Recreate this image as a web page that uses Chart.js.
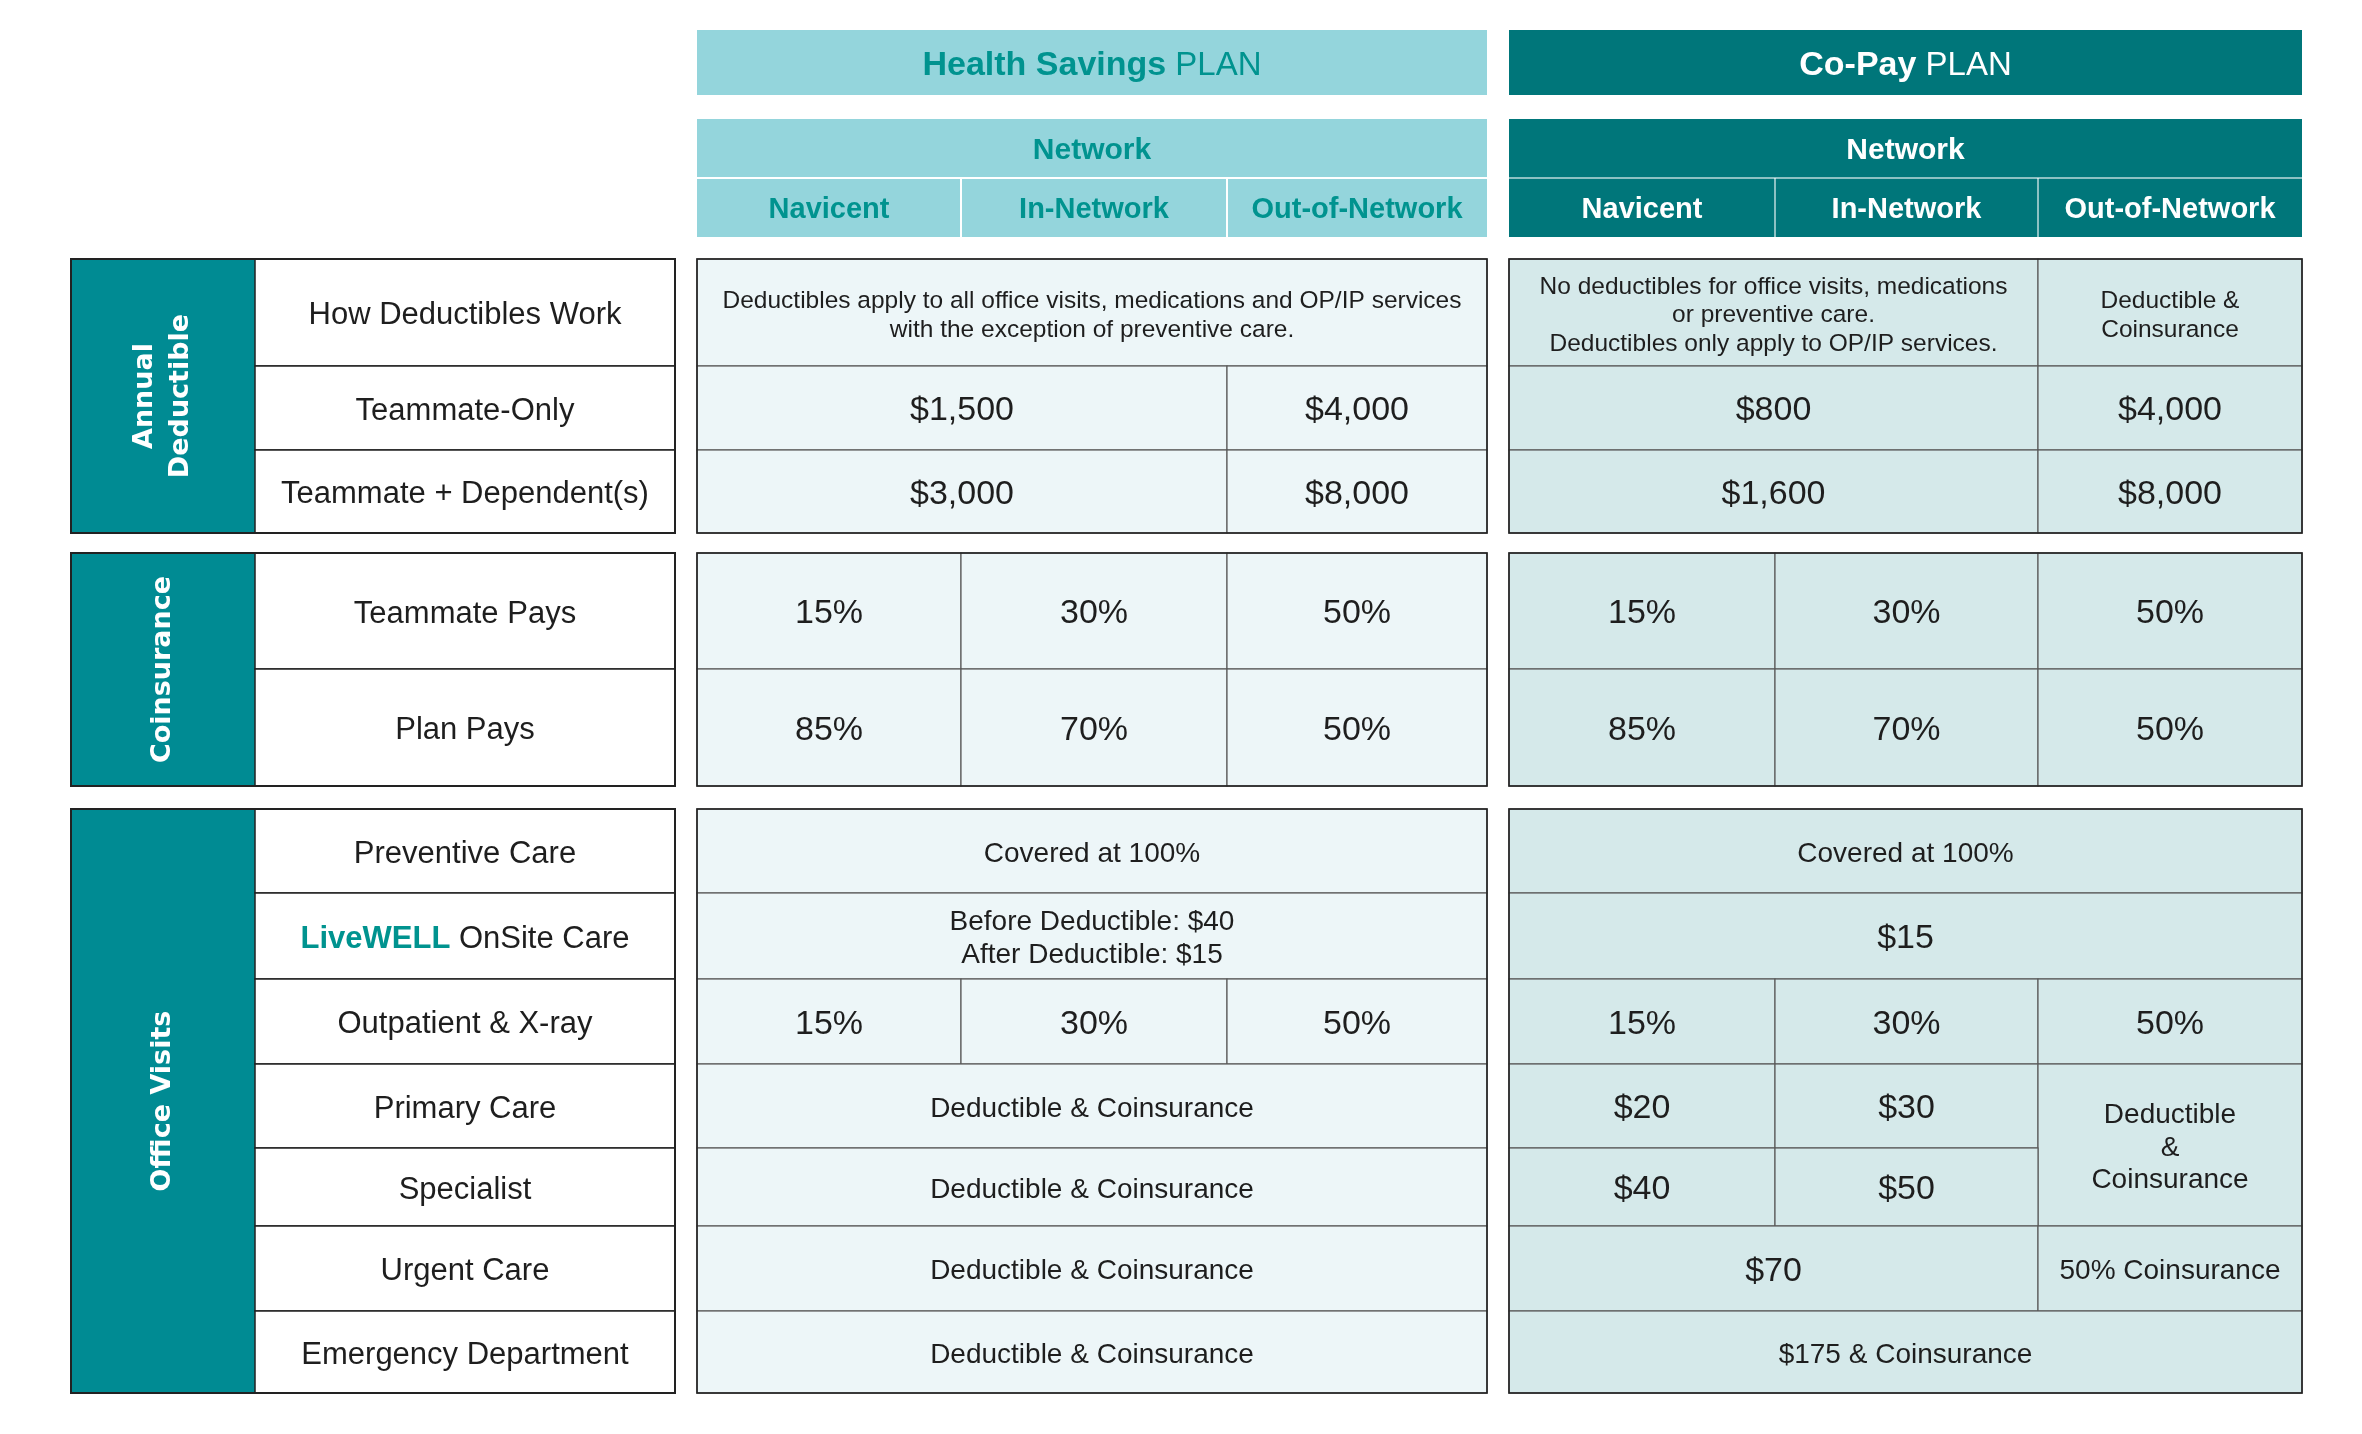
<!DOCTYPE html>
<html>
<head>
<meta charset="utf-8">
<title>Plan comparison</title>
<script src="https://cdn.jsdelivr.net/npm/chart.js@4.4.1/dist/chart.umd.min.js"></script>
<style>
  html, body { margin: 0; padding: 0; background: #fff; }
  #planChart { display: block; }
</style>
</head>
<body>
<canvas id="planChart" width="2362" height="1434"></canvas>
<script>
// ---- table content ----
const planTitles = ['Health Savings', 'Co-Pay'];
const networkLabel = 'Network';
const networkCols = ['Navicent', 'In-Network', 'Out-of-Network'];
const sectionLabels = [['Annual', 'Deductible'], ['Coinsurance'], ['Office Visits']];
const rowLabels = [
    'How Deductibles Work', 'Teammate-Only', 'Teammate + Dependent(s)',
    'Teammate Pays', 'Plan Pays',
    'Preventive Care', 'LiveWELL OnSite Care', 'Outpatient & X-ray', 'Primary Care',
    'Specialist', 'Urgent Care', 'Emergency Department'
];
// each cell: [text, colspan, rowspan]
const hsaCells = [
    [['Deductibles apply to all office visits, medications and OP/IP services\nwith the exception of preventive care.', 3]],
    [['$1,500', 2], ['$4,000', 1]],
    [['$3,000', 2], ['$8,000', 1]],
    [['15%', 1], ['30%', 1], ['50%', 1]],
    [['85%', 1], ['70%', 1], ['50%', 1]],
    [['Covered at 100%', 3]],
    [['Before Deductible: $40\nAfter Deductible: $15', 3]],
    [['15%', 1], ['30%', 1], ['50%', 1]],
    [['Deductible & Coinsurance', 3]],
    [['Deductible & Coinsurance', 3]],
    [['Deductible & Coinsurance', 3]],
    [['Deductible & Coinsurance', 3]]
];
const copayCells = [
    [['No deductibles for office visits, medications\nor preventive care.\nDeductibles only apply to OP/IP services.', 2], ['Deductible &\nCoinsurance', 1]],
    [['$800', 2], ['$4,000', 1]],
    [['$1,600', 2], ['$8,000', 1]],
    [['15%', 1], ['30%', 1], ['50%', 1]],
    [['85%', 1], ['70%', 1], ['50%', 1]],
    [['Covered at 100%', 3]],
    [['$15', 3]],
    [['15%', 1], ['30%', 1], ['50%', 1]],
    [['$20', 1], ['$30', 1], ['Deductible\n&\nCoinsurance', 1, 2]],
    [['$40', 1], ['$50', 1]],
    [['$70', 2], ['50% Coinsurance', 1]],
    [['$175 & Coinsurance', 3]]
];

// ---- grid layout (scale units) ----
const colEdges = [71, 255, 675, 697, 961, 1227, 1487, 1509, 1775, 2038, 2302];
const headerBands = [[30, 95], [119, 178], [178, 237]];
const sectionRowEdges = [
    [259, 366, 450, 533],
    [553, 669, 786],
    [809, 893, 979, 1064, 1148, 1226, 1311, 1393]
];

const FONT = '"Liberation Sans", Arial, sans-serif';
const SIDE_FONT = '"DejaVu Sans", sans-serif';
const TEXT_DROP = 3;
const colors = {
    hsaHead: '#94d5dc', hsaText: '#00938f',
    copayHead: '#00767a', sideBg: '#008b93',
    hsaBody: '#edf6f8', copayBody: '#d5e9ea',
    ink: '#1e1e1e', line: '#5a5a5a', frame: '#222'
};

function drawLines(ctx, text, cx, cy, size, weight, color) {
    const lines = text.split('\n');
    const lh = size * 1.17;
    ctx.font = `${weight} ${size}px ${FONT}`;
    ctx.fillStyle = color;
    ctx.textAlign = 'center';
    ctx.textBaseline = 'middle';
    lines.forEach((l, i) => {
        ctx.fillText(l, cx, cy + TEXT_DROP + (i - (lines.length - 1) / 2) * lh);
    });
}

function drawRuns(ctx, runs, cx, cy) {
    ctx.textBaseline = 'middle';
    ctx.textAlign = 'left';
    let total = 0;
    runs.forEach(r => { ctx.font = r.font; total += ctx.measureText(r.text).width; });
    let x0 = cx - total / 2;
    runs.forEach(r => {
        ctx.font = r.font;
        ctx.fillStyle = r.color;
        ctx.fillText(r.text, x0, cy + TEXT_DROP);
        x0 += ctx.measureText(r.text).width;
    });
}

function cellSize(text, row) {
    if (/^[\$\d,%]+$/.test(text)) return 34;
    if (row === 0) return 24.5;
    return 28;
}

const tablePlugin = {
    id: 'tablePlugin',
    afterDraw(chart) {
        const { ctx, scales: { x, y } } = chart;
        const X = i => x.getPixelForValue(colEdges[i]);
        const Y = v => y.getPixelForValue(v);
        ctx.save();

        // plan headers
        const planStart = [3, 7];
        planTitles.forEach((title, p) => {
            const c0 = planStart[p];
            const dark = p === 1;
            const bg = dark ? colors.copayHead : colors.hsaHead;
            const fg = dark ? '#fff' : colors.hsaText;
            const sep = dark ? 'rgba(255,255,255,0.55)' : '#fff';
            const xl = X(c0), xr = X(c0 + 3);
            // title
            let [t, b] = headerBands[0];
            ctx.fillStyle = bg;
            ctx.fillRect(xl, Y(t), xr - xl, Y(b) - Y(t));
            drawRuns(ctx, [
                { text: title, font: `bold 34px ${FONT}`, color: fg },
                { text: ' PLAN', font: `normal 33px ${FONT}`, color: fg }
            ], (xl + xr) / 2, (Y(t) + Y(b)) / 2);
            // network
            [t, b] = headerBands[1];
            ctx.fillStyle = bg;
            ctx.fillRect(xl, Y(t), xr - xl, Y(headerBands[2][1]) - Y(t));
            drawLines(ctx, networkLabel, (xl + xr) / 2, (Y(t) + Y(b)) / 2 - 1, 30, 'bold', fg);
            ctx.strokeStyle = sep;
            ctx.lineWidth = 2;
            ctx.beginPath();
            ctx.moveTo(xl, Y(b)); ctx.lineTo(xr, Y(b));
            ctx.stroke();
            // sub columns
            [t, b] = headerBands[2];
            networkCols.forEach((name, k) => {
                const a = X(c0 + k), e = X(c0 + k + 1);
                drawLines(ctx, name, (a + e) / 2, (Y(t) + Y(b)) / 2 - 1, 29, 'bold', fg);
                if (k > 0) {
                    ctx.beginPath();
                    ctx.moveTo(a, Y(t)); ctx.lineTo(a, Y(b));
                    ctx.stroke();
                }
            });
        });

        // sections
        let rowIdx = 0;
        const bands = [];
        sectionRowEdges.forEach((edges, s) => {
            const top = Y(edges[0]), bot = Y(edges[edges.length - 1]);
            // side label
            ctx.fillStyle = colors.sideBg;
            ctx.fillRect(X(0), top, X(1) - X(0), bot - top);
            ctx.save();
            ctx.translate((X(0) + X(1)) / 2, (top + bot) / 2);
            ctx.rotate(-Math.PI / 2);
            ctx.font = `bold 27px ${SIDE_FONT}`;
            ctx.fillStyle = '#fff';
            ctx.textAlign = 'center';
            ctx.textBaseline = 'middle';
            const lines = sectionLabels[s];
            lines.forEach((l, i) => ctx.fillText(l, 0, (i - (lines.length - 1) / 2) * 36));
            ctx.restore();
            // row labels
            for (let r = 0; r < edges.length - 1; r++) {
                const rt = Y(edges[r]), rb = Y(edges[r + 1]);
                bands.push([edges[r], edges[r + 1]]);
                ctx.fillStyle = '#fff';
                ctx.fillRect(X(1), rt, X(2) - X(1), rb - rt);
                const label = rowLabels[rowIdx];
                const cy = (rt + rb) / 2;
                const cx = (X(1) + X(2)) / 2;
                if (label.startsWith('LiveWELL')) {
                    drawRuns(ctx, [
                        { text: 'LiveWELL', font: `bold 31px ${FONT}`, color: colors.hsaText },
                        { text: label.slice(8), font: `normal 31px ${FONT}`, color: colors.ink }
                    ], cx, cy);
                } else {
                    drawLines(ctx, label, cx, cy, 31, 'normal', colors.ink);
                }
                ctx.strokeStyle = colors.frame;
                ctx.lineWidth = 1.5;
                ctx.strokeRect(X(1), rt, X(2) - X(1), rb - rt);
                rowIdx++;
            }
            ctx.strokeStyle = colors.frame;
            ctx.lineWidth = 2;
            ctx.strokeRect(X(0), top, X(2) - X(0), bot - top);
        });

        // plan body cells
        [[hsaCells, 3, colors.hsaBody], [copayCells, 7, colors.copayBody]].forEach(([cells, c0, bg]) => {
            const taken = {};
            cells.forEach((row, r) => {
                let c = 0;
                row.forEach(([text, span, rspan]) => {
                    while (taken[r + ',' + c]) c++;
                    const rs = rspan || 1;
                    for (let k = 1; k < rs; k++) for (let j = 0; j < span; j++) taken[(r + k) + ',' + (c + j)] = true;
                    const xl = X(c0 + c), xr = X(c0 + c + span);
                    const yt = Y(bands[r][0]), yb = Y(bands[r + rs - 1][1]);
                    ctx.fillStyle = bg;
                    ctx.fillRect(xl, yt, xr - xl, yb - yt);
                    ctx.strokeStyle = colors.line;
                    ctx.lineWidth = 1.2;
                    ctx.strokeRect(xl, yt, xr - xl, yb - yt);
                    const size = cellSize(text, r);
                    drawLines(ctx, text, (xl + xr) / 2, (yt + yb) / 2, size, 'normal', colors.ink);
                    c += span;
                });
            });
            // section frames
            sectionRowEdges.forEach(edges => {
                const top = Y(edges[0]), bot = Y(edges[edges.length - 1]);
                ctx.strokeStyle = colors.frame;
                ctx.lineWidth = 1.6;
                ctx.strokeRect(X(c0), top, X(c0 + 3) - X(c0), bot - top);
            });
        });
        ctx.restore();
    }
};

const chart = new Chart(document.getElementById('planChart').getContext('2d'), {
    type: 'scatter',
    data: { datasets: [{ data: [], pointRadius: 0 }] },
    options: {
        responsive: false,
        animation: false,
        devicePixelRatio: 1,
        layout: { padding: 0 },
        plugins: { legend: { display: false }, tooltip: { enabled: false } },
        scales: {
            x: { type: 'linear', min: 0, max: 2362, display: false },
            y: { type: 'linear', min: 0, max: 1434, reverse: true, display: false }
        }
    },
    plugins: [tablePlugin]
});
</script>
</body>
</html>
